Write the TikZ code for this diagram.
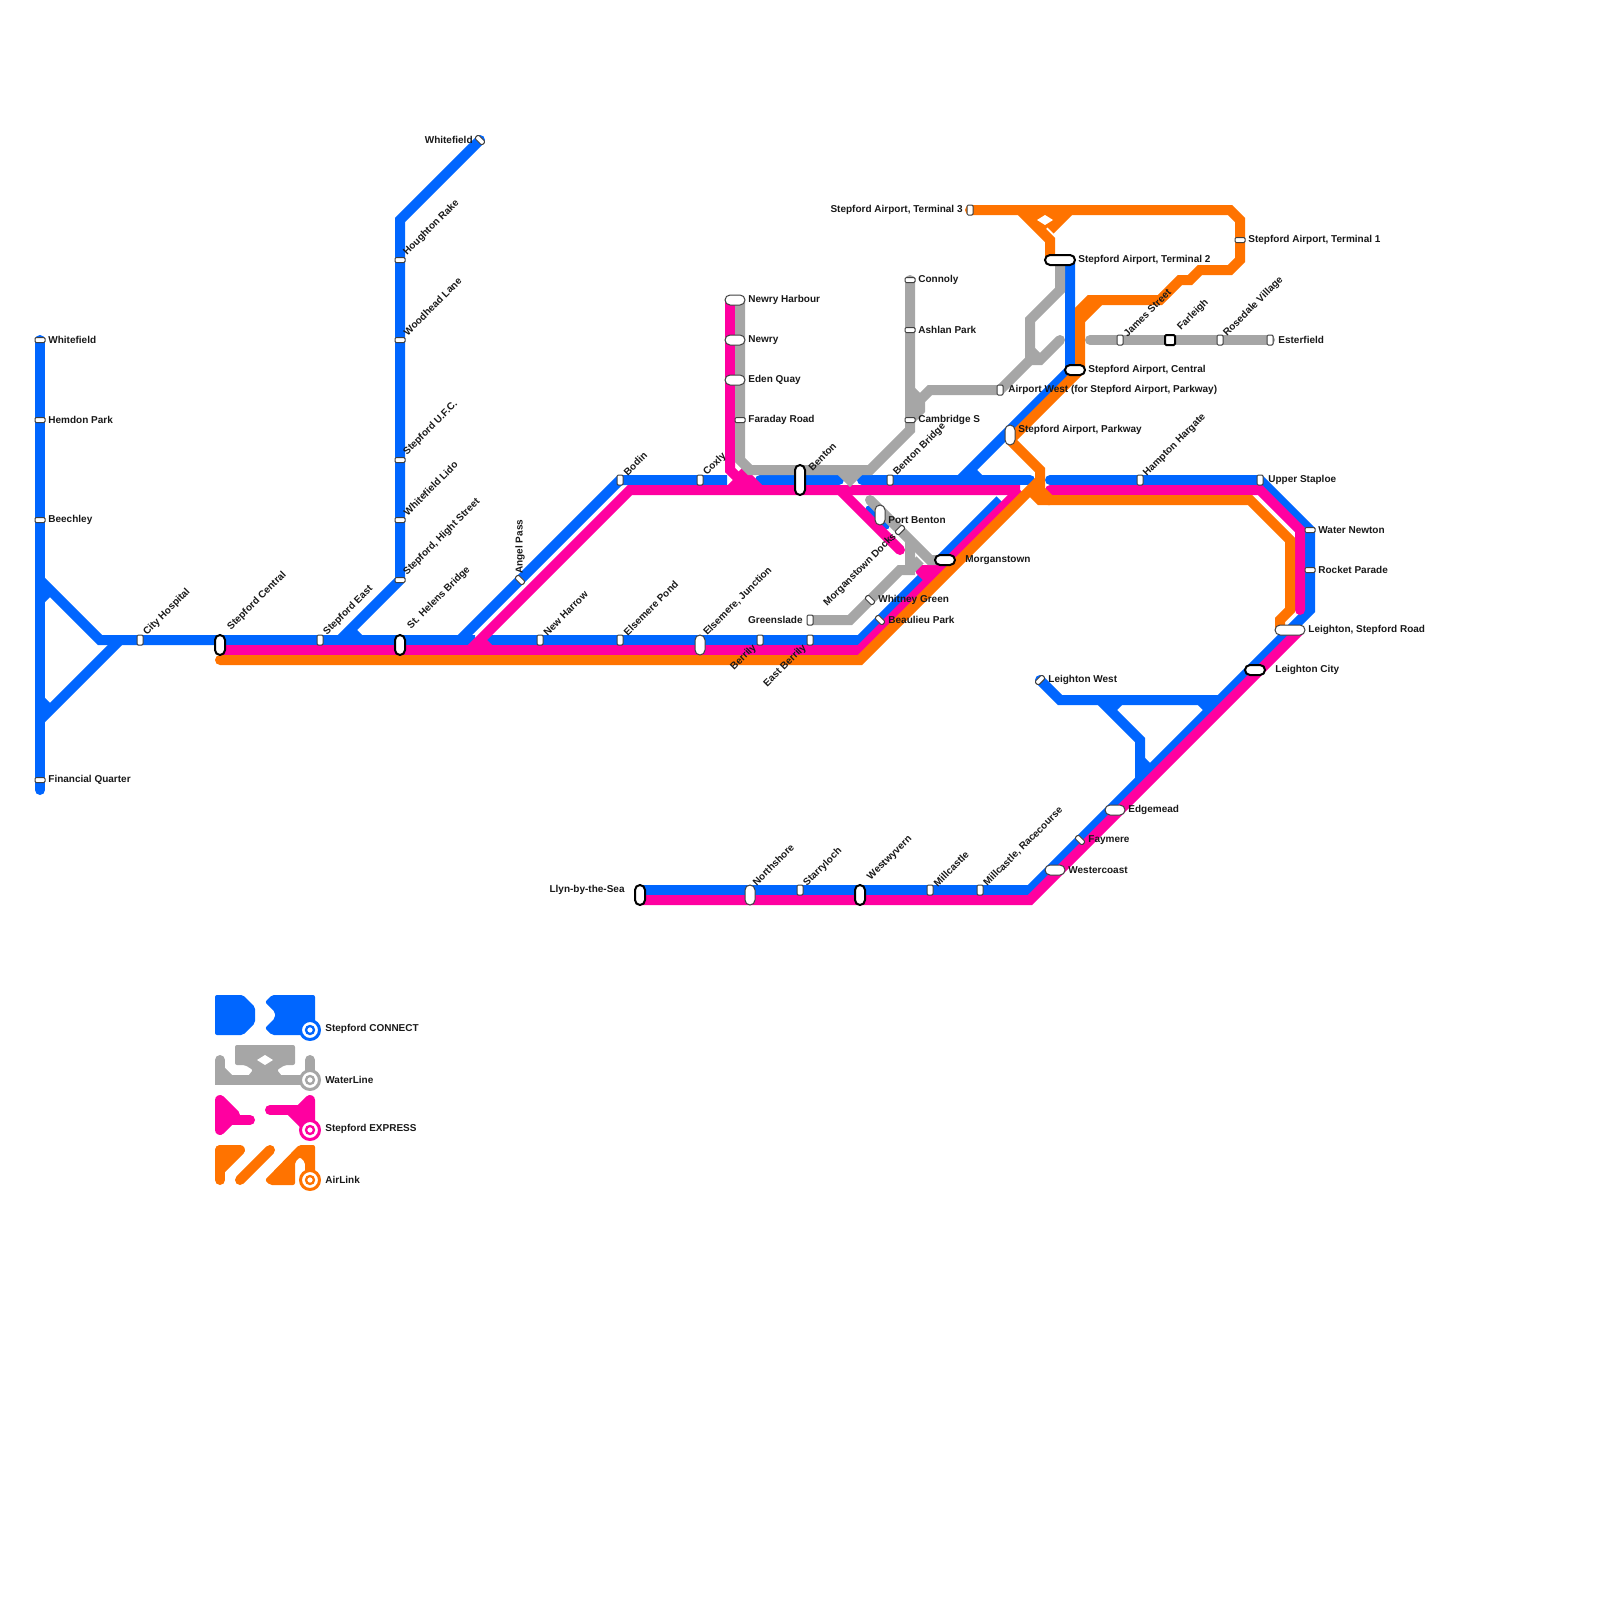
\documentclass[tikz,border=0pt]{standalone}
\usepackage{fontspec}
\setmainfont{Liberation Sans}
\usepackage{tikz}

\definecolor{connectblue}{RGB}{0,102,255}
\definecolor{watergrey}{RGB}{166,166,166}
\definecolor{expresspink}{RGB}{255,0,160}
\definecolor{airorange}{RGB}{255,115,0}

\tikzset{
    rail/.style={line width=5pt},
    railB/.style={rail, connectblue},
    railG/.style={rail, watergrey},
    railP/.style={rail, expresspink},
    railO/.style={rail, airorange},
    blob/.style={rounded corners=1pt},
    stn/.style={draw=black!75, fill=white, line width=0.5pt, inner sep=0pt},
    stnH/.style={stn, minimum width=5pt, minimum height=2.5pt, rounded corners=0.6pt},
    stnV/.style={stn, minimum width=3pt, minimum height=5pt, rounded corners=0.6pt},
    pillH/.style={stn, minimum width=#1, minimum height=5pt, rounded corners=2.5pt},
    pillV/.style={stn, minimum width=5pt, minimum height=#1, rounded corners=2.5pt},
    heavy/.style={draw=black, line width=1pt},
    lab/.style={font=\bfseries\fontsize{5pt}{6pt}\selectfont, inner sep=0pt, text=black!90},
    labR/.style={lab, anchor=west, yshift=-0.5pt},
    labL/.style={lab, anchor=east, yshift=-0.5pt},
    labU/.style={lab, anchor=west, rotate=45},
    labD/.style={lab, anchor=east, rotate=45},
    ringout/.style={circle, fill=white, draw=#1, line width=1.5pt, minimum size=9.5pt, inner sep=0pt},
    ringin/.style={circle, fill=white, draw=#1, line width=1.15pt, minimum size=4pt, inner sep=0pt},
}

\begin{document}
\begin{tikzpicture}[x=0.5pt, y=-0.5pt]
    \useasboundingbox (0,0) rectangle (1600,1600);
    % Stepford CONNECT
    \draw[railB, line cap=round] (40,340) -- (40,790);
    \draw[railB] (40,580) -- (100,640) -- (475,640);
    \draw[railB] (40,720) -- (120,640);
    \draw[railB] (40,600) -- (50,590);
    \draw[railB] (40,700) -- (50,710);
    \draw[railB, line cap=round] (480,140) -- (400,220) -- (400,580);
    \draw[railB] (400,580) -- (340,640);
    \draw[railB] (350,630) -- (360,640);
    \draw[railB] (460,640) -- (620,480) -- (727,480);
    \draw[railB] (480,640) -- (860,640) -- (1000,500);
    \draw[railB, line cap=round] (760,480) -- (839,480);
    \draw[railB, line cap=round] (862,480) -- (1030,480);
    \draw[railB] (1070,260) -- (1070,370) -- (960,480);
    \draw[railB] (970,470) -- (980,480);
    \draw[railB, line cap=round] (870,510) -- (885,525);
    \draw[railB, line cap=round] (1050,480) -- (1260,480) -- (1310,530) -- (1310,610) -- (1030,890) -- (640,890);
    \draw[railB, line cap=round] (1040,680) -- (1060,700) -- (1220,700);
    \draw[railB] (1100,700) -- (1140,740) -- (1140,780);
    \draw[railB] (1200,700) -- (1210,710);
    \draw[railB] (1120,700) -- (1110,710);
    \draw[railB] (1140,760) -- (1150,770);
    % Stepford EXPRESS
    \draw[railP] (220,650) -- (860,650) -- (1020,490);
    \draw[railP] (1020,490) -- (630,490) -- (470,650);
    \draw[railP] (480,640) -- (490,650);
    \draw[railP] (730,300) -- (730,470) -- (750,490);
    \draw[railP] (740,470) -- (760,490);
    \draw[railP] (730,490) -- (740,480);
    \draw[railP, line cap=round] (840,490) -- (900,550);
    \draw[railP, line cap=round] (920,570) -- (940,570);
    \draw[railP] (920,570) -- (930,580);
    \draw[railP, line cap=round] (1050,490) -- (1260,490) -- (1300,530) -- (1300,610);
    \draw[railP] (640,900) -- (1030,900) -- (1300,630);
    % WaterLine
    \draw[railG, line cap=round] (1060,260) -- (1060,290) -- (1030,320) -- (1030,360) -- (1000,390) -- (930,390) -- (920,400) -- (920,410) -- (910,420);
    \draw[railG, line cap=round] (1060,340) -- (1040,360) -- (1030,360);
    \draw[railG] (1030,350) -- (1040,360);
    \draw[railG] (910,390) -- (920,400);
    \draw[railG, line cap=round] (910,280) -- (910,430) -- (870,470) -- (750,470) -- (740,460) -- (740,300);
    \draw[railG] (840,470) -- (850,480) -- (860,470);
    \draw[railG, line cap=round] (870,500) -- (930,560) -- (945,560);
    \draw[railG] (810,620) -- (850,620) -- (900,570) -- (910,570) -- (910,540);
    \draw[railG] (910,570) -- (920,560);
    \draw[railG, line cap=round] (1090,340) -- (1270,340);
    % AirLink
    \draw[railO, line cap=round] (220,660) -- (860,660) -- (1040,480);
    \draw[railO, line cap=round] (970,210) -- (1230,210) -- (1240,220) -- (1240,260) -- (1230,270) -- (1200,270) -- (1190,280) -- (1180,280) -- (1160,300) -- (1090,300) -- (1080,310) -- (1080,370) -- (1010,440);
    \draw[railO] (1080,320) -- (1100,300);
    \draw[railO] (1010,440) -- (1040,470) -- (1040,490) -- (1050,500) -- (1250,500) -- (1290,540) -- (1290,610) -- (1280,620) -- (1280,630);
    \draw[railO] (1030,490) -- (1040,500) -- (1050,500);
    \draw[railO] (1020,210) -- (1050,240) -- (1050,260);
    \draw[railO] (1070,210) -- (1050,230);
    \fill[airorange] (1030,214) -- (1060,214) -- (1045,230) -- cycle;
    \fill[white] (1037,220) -- (1045,215) -- (1053,220) -- (1045,225) -- cycle;
    % stations, west
    \node[stnH] (whitefieldW) at (40,340) {};
    \node[stnH] (hemdon) at (40,420) {};
    \node[stnH] (beechley) at (40,520) {};
    \node[stnH] (financial) at (40,780) {};
    \node[stnV] (cityhosp) at (140,640) {};
    \node[pillV=10pt, heavy] (stepcentral) at (220,645) {};
    \node[stnV] (stepeast) at (320,640) {};
    \node[pillV=10pt, heavy] (sthelens) at (400,645) {};
    \node[stnH] (hightst) at (400,580) {};
    \node[stnH] (lido) at (400,520) {};
    \node[stnH] (ufc) at (400,460) {};
    \node[stnH] (woodhead) at (400,340) {};
    \node[stnH] (houghton) at (400,260) {};
    \node[stnH, rotate=-45] (whitefieldN) at (480,140) {};
    \node[stnH, rotate=-45] (angelpass) at (520,580) {};
    \node[stnV] (newharrow) at (540,640) {};
    \node[stnV] (elsepond) at (620,640) {};
    \node[pillV=10pt] (elsejunc) at (700,645) {};
    \node[stnV] (berrily) at (760,640) {};
    \node[stnV] (eastberrily) at (810,640) {};
    \node[stnV] (bodin) at (620,480) {};
    \node[stnV] (coxly) at (700,480) {};
    \node[pillV=15pt, heavy] (benton) at (800,480) {};
    \node[stnV] (bentonbr) at (890,480) {};
    % stations, centre
    \node[pillH=10pt] (newryharb) at (735,300) {};
    \node[pillH=10pt] (newry) at (735,340) {};
    \node[pillH=10pt] (edenquay) at (735,380) {};
    \node[stnH] (faraday) at (740,420) {};
    \node[stnH] (connoly) at (910,280) {};
    \node[stnH] (ashlan) at (910,330) {};
    \node[stnH] (cambridge) at (910,420) {};
    \node[pillV=10pt] (portbenton) at (880,515) {};
    \node[stnH, rotate=45] (mdocks) at (900,530) {};
    \node[pillH=10pt, heavy] (morgan) at (945,560) {};
    \node[stnV] (greenslade) at (810,620) {};
    \node[stnH, rotate=-45] (whitney) at (870,600) {};
    \node[stnH, rotate=-45] (beaulieu) at (880,620) {};
    % stations, airport
    \node[stnV] (airwest) at (1000,390) {};
    \node[pillV=10pt] (parkway) at (1010,435) {};
    \node[pillH=10pt, heavy] (central) at (1075,370) {};
    \node[pillH=15pt, heavy] (term2) at (1060,260) {};
    \node[stnV] (term3) at (970,210) {};
    \node[stnH] (term1) at (1240,240) {};
    \node[stnV] (jamesst) at (1120,340) {};
    \node[stn, heavy, minimum width=5pt, minimum height=5pt, rounded corners=0.6pt] (farleigh) at (1170,340) {};
    \node[stnV] (rosedale) at (1220,340) {};
    \node[stnV] (esterfield) at (1270,340) {};
    % stations, east and south
    \node[stnV] (hampton) at (1140,480) {};
    \node[stnV] (staploe) at (1260,480) {};
    \node[stnH] (waternewton) at (1310,530) {};
    \node[stnH] (rocket) at (1310,570) {};
    \node[pillH=15pt] (leightonrd) at (1290,630) {};
    \node[pillH=10pt, heavy] (leightoncity) at (1255,670) {};
    \node[stnH, rotate=45] (leightonwest) at (1040,680) {};
    \node[pillH=10pt] (edgemead) at (1115,810) {};
    \node[stnH, rotate=-45] (faymere) at (1080,840) {};
    \node[pillH=10pt] (westercoast) at (1055,870) {};
    \node[pillV=10pt, heavy] (llyn) at (640,895) {};
    \node[pillV=10pt] (northshore) at (750,895) {};
    \node[stnV] (starryloch) at (800,890) {};
    \node[pillV=10pt, heavy] (westwyvern) at (860,895) {};
    \node[stnV] (millcastle) at (930,890) {};
    \node[stnV] (racecourse) at (980,890) {};
    % labels, west
    \node[labR] (whitefieldWtxt) at (48,339) {Whitefield};
    \node[labR] (hemdontxt) at (48,419) {Hemdon Park};
    \node[labR] (beechleytxt) at (48,519) {Beechley};
    \node[labR] (financialtxt) at (48,779) {Financial Quarter};
    \node[labU] (cityhosptxt) at (145,634) {City Hospital};
    \node[labU] (stepcentraltxt) at (229,629) {Stepford Central};
    \node[labU] (stepeasttxt) at (325,634) {Stepford East};
    \node[labU] (sthelenstxt) at (409,628) {St. Helens Bridge};
    \node[labU] (hightsttxt) at (405,574) {Stepford, Hight Street};
    \node[labU] (lidotxt) at (405,514) {Whitefield Lido};
    \node[labU] (ufctxt) at (405,454) {Stepford U.F.C.};
    \node[labU] (woodheadtxt) at (405,334) {Woodhead Lane};
    \node[labU] (houghtontxt) at (405,254) {Houghton Rake};
    \node[labL] (whitefieldNtxt) at (473,139) {Whitefield};
    \node[lab, anchor=west, rotate=90] (angelpasstxt) at (520,574) {Angel Pass};
    \node[labU] (newharrowtxt) at (545,634) {New Harrow};
    \node[labU] (elsepondtxt) at (625,634) {Elsemere Pond};
    \node[labU] (elsejunctxt) at (705,634) {Elsemere, Junction};
    \node[labD] (berrilytxt) at (755,646) {Berrily};
    \node[labD] (eastberrilytxt) at (805,646) {East Berrily};
    \node[labU] (bodintxt) at (625,474) {Bodin};
    \node[labU] (coxlytxt) at (705,474) {Coxly};
    \node[labU] (bentontxt) at (810,469) {Benton};
    \node[labU] (bentonbrtxt) at (895,474) {Benton Bridge};
    % labels, centre
    \node[labR] (newryharbtxt) at (748,299) {Newry Harbour};
    \node[labR] (newrytxt) at (748,339) {Newry};
    \node[labR] (edenquaytxt) at (748,379) {Eden Quay};
    \node[labR] (faradaytxt) at (748,419) {Faraday Road};
    \node[labR] (connolytxt) at (918,279) {Connoly};
    \node[labR] (ashlantxt) at (918,329) {Ashlan Park};
    \node[labR] (cambridgetxt) at (918,419) {Cambridge S};
    \node[labR] (portbentontxt) at (888,519) {Port Benton};
    \node[labD] (mdockstxt) at (895,535) {Morganstown Docks};
    \node[labR] (morgantxt) at (965,559) {Morganstown};
    \node[labL] (greensladetxt) at (803,619) {Greenslade};
    \node[labR] (whitneytxt) at (878,599) {Whitney Green};
    \node[labR] (beaulieutxt) at (888,619) {Beaulieu Park};
    % labels, airport
    \node[labR] (airwesttxt) at (1008,389) {Airport West (for Stepford Airport, Parkway)};
    \node[labR] (parkwaytxt) at (1018,429) {Stepford Airport, Parkway};
    \node[labR] (centraltxt) at (1088,369) {Stepford Airport, Central};
    \node[labR] (term2txt) at (1078,259) {Stepford Airport, Terminal 2};
    \node[labL] (term3txt) at (963,209) {Stepford Airport, Terminal 3};
    \node[labR] (term1txt) at (1248,239) {Stepford Airport, Terminal 1};
    \node[labU] (jamessttxt) at (1125,335) {James Street};
    \node[labU] (farleightxt) at (1179,329) {Farleigh};
    \node[labU] (rosedaletxt) at (1225,335) {Rosedale Village};
    \node[labR] (esterfieldtxt) at (1278,339) {Esterfield};
    % labels, east and south
    \node[labU] (hamptontxt) at (1145,475) {Hampton Hargate};
    \node[labR] (staploetxt) at (1268,479) {Upper Staploe};
    \node[labR] (waternewtontxt) at (1318,529) {Water Newton};
    \node[labR] (rockettxt) at (1318,569) {Rocket Parade};
    \node[labR] (leightonrdtxt) at (1308,629) {Leighton, Stepford Road};
    \node[labR] (leightoncitytxt) at (1275,669) {Leighton City};
    \node[labR] (leightonwesttxt) at (1048,679) {Leighton West};
    \node[labR] (edgemeadtxt) at (1128,809) {Edgemead};
    \node[labR] (faymeretxt) at (1088,839) {Faymere};
    \node[labR] (westercoasttxt) at (1068,869) {Westercoast};
    \node[labL] (llyntxt) at (625,889) {Llyn-by-the-Sea};
    \node[labU] (northshoretxt) at (754,884) {Northshore};
    \node[labU] (starrylochtxt) at (805,885) {Starryloch};
    \node[labU] (westwyverntxt) at (869,879) {Westwyvern};
    \node[labU] (millcastletxt) at (935,885) {Millcastle};
    \node[labU] (racecoursetxt) at (985,885) {Millcastle, Racecourse};
    % key, Stepford CONNECT
    \fill[connectblue, blob] (215,995) -- (243,995) -- (255,1007) -- (255,1023) -- (243,1035) -- (215,1035) -- cycle;
    \fill[connectblue, blob] (265,1002) -- (272,995) -- (315,995) -- (315,1035) -- (272,1035) -- (265,1028) -- (275,1018) -- (275,1012) -- cycle;
    \node[ringout=connectblue] (keyblue) at (310,1030) {};
    \node[ringin=connectblue] (keyblueC) at (310,1030) {};
    \node[labR] (keybluetxt) at (325,1028) {Stepford CONNECT};
    % key, WaterLine
    \fill[watergrey, blob] (235,1045) -- (295,1045) -- (295,1065) -- (285,1065) -- (277,1070) -- (282,1076) -- (248,1076) -- (253,1070) -- (245,1065) -- (235,1065) -- cycle;
    \fill[white] (257,1060) -- (265,1055) -- (273,1060) -- (265,1065) -- cycle;
    \draw[railG, line cap=round] (220,1060) -- (220,1080) -- (310,1080) -- (310,1060);
    \draw[railG] (220,1070) -- (230,1080);
    \node[ringout=watergrey] (keygrey) at (310,1080) {};
    \node[ringin=watergrey] (keygreyC) at (310,1080) {};
    \node[labR] (keygreytxt) at (325,1079) {WaterLine};
    % key, Stepford EXPRESS
    \filldraw[railP, line join=round] (220,1100) -- (235,1115) -- (220,1130) -- cycle;
    \draw[railP, line cap=round] (230,1120) -- (250,1120);
    \draw[railP, line cap=round] (270,1110) -- (300,1110);
    \filldraw[railP, line join=round] (300,1110) -- (310,1100) -- (310,1130) -- (290,1110) -- cycle;
    \node[ringout=expresspink] (keypink) at (310,1130) {};
    \node[ringin=expresspink] (keypinkC) at (310,1130) {};
    \node[labR] (keypinktxt) at (325,1128) {Stepford EXPRESS};
    % key, AirLink
    \filldraw[railO, line join=round] (220,1150) -- (240,1150) -- (220,1170) -- cycle;
    \draw[railO, line cap=round] (220,1150) -- (220,1180);
    \draw[railO, line cap=round] (240,1180) -- (270,1150);
    \fill[airorange, blob] (265,1180) -- (299,1145) -- (315,1145) -- (315,1175) -- (305,1175) -- (305,1162) -- (300,1157) -- (295,1162) -- (295,1185) -- (270,1185) -- cycle;
    \node[ringout=airorange] (keyorange) at (310,1180) {};
    \node[ringin=airorange] (keyorangeC) at (310,1180) {};
    \node[labR] (keyorangetxt) at (325,1179) {AirLink};
\end{tikzpicture}
\end{document}
